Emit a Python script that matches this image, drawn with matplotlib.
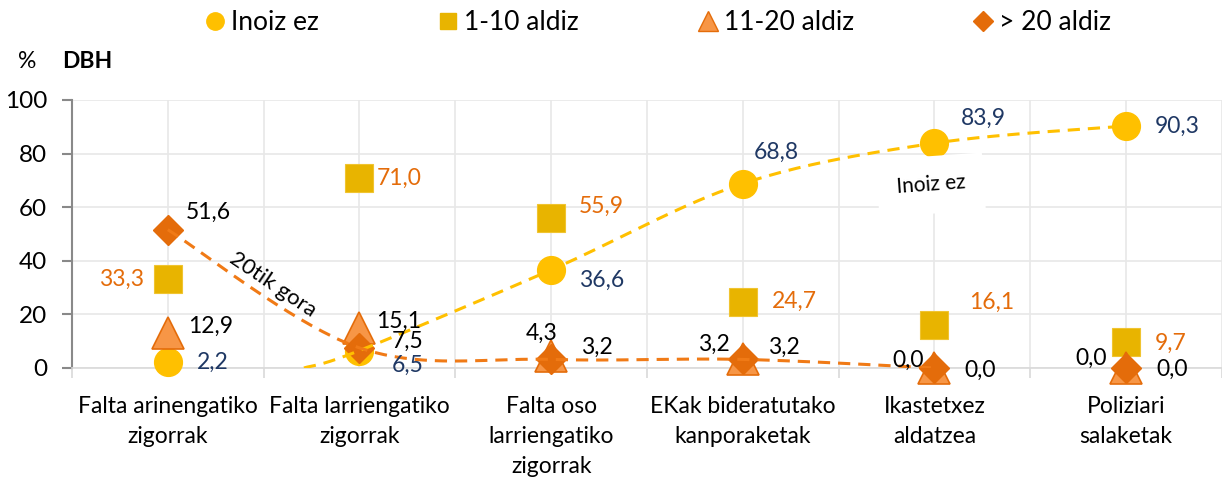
import matplotlib
matplotlib.use("Agg")
import matplotlib.pyplot as plt
import numpy as np
from matplotlib.lines import Line2D

plt.rcParams["font.family"] = ["Lato", "DejaVu Sans"]

categories = [
    "Falta arinengatiko\nzigorrak",
    "Falta larriengatiko\nzigorrak",
    "Falta oso\nlarriengatiko\nzigorrak",
    "EKak bideratutako\nkanporaketak",
    "Ikastetxez\naldatzea",
    "Poliziari\nsalaketak",
]
inoiz_ez = [2.2, 6.5, 36.6, 68.8, 83.9, 90.3]
aldiz_1_10 = [33.3, 71.0, 55.9, 24.7, 16.1, 9.7]
aldiz_11_20 = [12.9, 15.1, 4.3, 3.2, 0.0, 0.0]
aldiz_20_plus = [51.6, 7.5, 3.2, 3.2, 0.0, 0.0]

# hand-drawn trend curves (anchor points, category index / %)
trend_inoiz_x = [0.71, 1, 2, 3, 4, 5]
trend_inoiz_y = [0.0, 6.5, 36.6, 68.8, 83.9, 90.3]
trend_gora_x = [0, 1, 2, 3, 4]
trend_gora_y = [51.6, 7.5, 3.2, 3.2, 0.0]

C_CIRCLE = "#FFC000"
C_SQUARE = "#E8B400"
C_TRI = "#F79646"
C_TRI_EDGE = "#E46C0A"
C_DIAMOND = "#E46C0A"
C_NAVY = "#1F3864"
C_ORANGE_TXT = "#E46C0A"


def smooth(xs, ys, n=40):
    # excel-like smoothed line (bezier through points, catmull-rom tangents)
    p = np.column_stack([xs, ys]).astype(float)
    pts = []
    for i in range(len(p) - 1):
        p0 = p[max(i - 1, 0)]
        p1 = p[i]
        p2 = p[i + 1]
        p3 = p[min(i + 2, len(p) - 1)]
        c1 = p1 + (p2 - p0) / 6
        c2 = p2 - (p3 - p1) / 6
        t = np.linspace(0, 1, n)[:, None]
        seg = (1 - t) ** 3 * p1 + 3 * (1 - t) ** 2 * t * c1 + 3 * (1 - t) * t ** 2 * c2 + t ** 3 * p2
        pts.append(seg)
    pts = np.vstack(pts)
    return pts[:, 0], pts[:, 1]


fig = plt.figure(figsize=(12.22, 4.84), dpi=100)
ax = fig.add_axes([0.0589, 0.2397, 0.9411, 0.5537])

x = np.arange(len(categories))

ax.plot(x, inoiz_ez, "o", ms=20, color=C_CIRCLE, mec=C_CIRCLE, clip_on=False, zorder=3)
ax.plot(x, aldiz_1_10, "s", ms=20, color=C_SQUARE, mec="#F0C430", mew=0.8, clip_on=False, zorder=3)
ax.plot(x, aldiz_11_20, "^", ms=23, color=C_TRI, mec=C_TRI_EDGE, mew=1.2, clip_on=False, zorder=4)
ax.plot(x, aldiz_20_plus, "D", ms=15.5, color=C_DIAMOND, mec=C_DIAMOND, clip_on=False, zorder=5)

sx, sy = smooth(trend_inoiz_x, trend_inoiz_y)
ax.plot(sx, sy, color="#FFC000", lw=2.2, dashes=(4, 2.6), zorder=6)
sx, sy = smooth(trend_gora_x, trend_gora_y)
ax.plot(sx, sy, color="#F07A16", lw=2.2, dashes=(4, 2.6), zorder=6)

px = 0.72  # pixel -> point
label_specs = [
    # (series, colour, [(dx, dy, ha), ...] in pixels)
    (inoiz_ez, C_NAVY, [(29, 0, "left"), (32, -15, "left"), (28, -10, "left"),
                        (11, 31, "left"), (26, 25, "left"), (29, 0, "left")]),
    (aldiz_1_10, C_ORANGE_TXT, [(-24, -1, "right"), (17, -1, "left"), (28, 12, "left"),
                                (29, 0, "left"), (35, 22, "left"), (29, -1, "left")]),
    (aldiz_11_20, "black", [(20, 7, "left"), (17, 6, "left"), (-10, 23, "center"),
                            (-13, 15, "right"), (-11, 8, "right"), (-19, 10, "right")]),
    (aldiz_20_plus, "black", [(18, 17, "left"), (32, 7, "left"), (30, 12, "left"),
                              (25, 12, "left"), (30, -2, "left"), (30, -1, "left")]),
]
for series, col, offs in label_specs:
    for i, (v, (dx, dy, ha)) in enumerate(zip(series, offs)):
        ax.annotate(f"{v:.1f}".replace(".", ","), (i, v), xytext=(dx * px, dy * px),
                    textcoords="offset points", ha=ha, va="center", fontsize=16.5,
                    color=col, zorder=8, annotation_clip=False)

ax.text(0.547, 31.0, "20tik gora", rotation=-34, ha="center", va="center", fontsize=16,
        zorder=7)
ax.text(3.98, 68.3, "Inoiz ez", rotation=4, ha="center", va="center", fontsize=15,
        zorder=7, bbox=dict(boxstyle="square,pad=0.9", fc="white", ec="none"))

ax.set_xlim(-0.5, 5.5)
ax.set_ylim(0, 100)
ax.set_yticks(range(0, 101, 20))
ax.set_xticks(x)
ax.set_xticklabels(categories, fontsize=16.5, linespacing=1.55)
ax.set_xticks(np.arange(-0.5, 5.6, 1), minor=True)
ax.tick_params(axis="x", which="major", length=0, pad=20)
ax.tick_params(axis="x", which="minor", length=7, color="#D9D9D9", width=1.2)
ax.tick_params(axis="y", length=7, color="#898989", width=1.5, labelsize=17.5, pad=11)

ax.grid(True, axis="y", color="#E8E8E8", lw=1.2)
ax.grid(True, axis="x", which="both", color="#E8E8E8", lw=1.2)
ax.set_axisbelow(True)
for s in ["top", "right"]:
    ax.spines[s].set_visible(False)
ax.spines["left"].set_color("#898989")
ax.spines["left"].set_linewidth(1.5)
ax.spines["bottom"].set_color("#D9D9D9")
ax.spines["bottom"].set_linewidth(1.2)

fig.text(18 / 1222, 1 - 62 / 484, "%", fontsize=16.5, va="center")
fig.text(62 / 1222, 1 - 62 / 484, "DBH", fontsize=16.5, fontweight="bold", va="center")

handles = [
    Line2D([], [], ls="none", marker="o", ms=12.5, color=C_CIRCLE),
    Line2D([], [], ls="none", marker="s", ms=12, color=C_SQUARE),
    Line2D([], [], ls="none", marker="^", ms=14, color=C_TRI, mec=C_TRI_EDGE),
    Line2D([], [], ls="none", marker="D", ms=10, color=C_DIAMOND),
]
fig.legend(handles, ["Inoiz ez", "1-10 aldiz", "11-20 aldiz", "> 20 aldiz"],
           loc="center", bbox_to_anchor=(0.537, 1 - 23 / 484), ncol=4, frameon=False,
           fontsize=19, handletextpad=0.1, columnspacing=4.4, handlelength=1.0)

fig.savefig("out.png", dpi=100)
